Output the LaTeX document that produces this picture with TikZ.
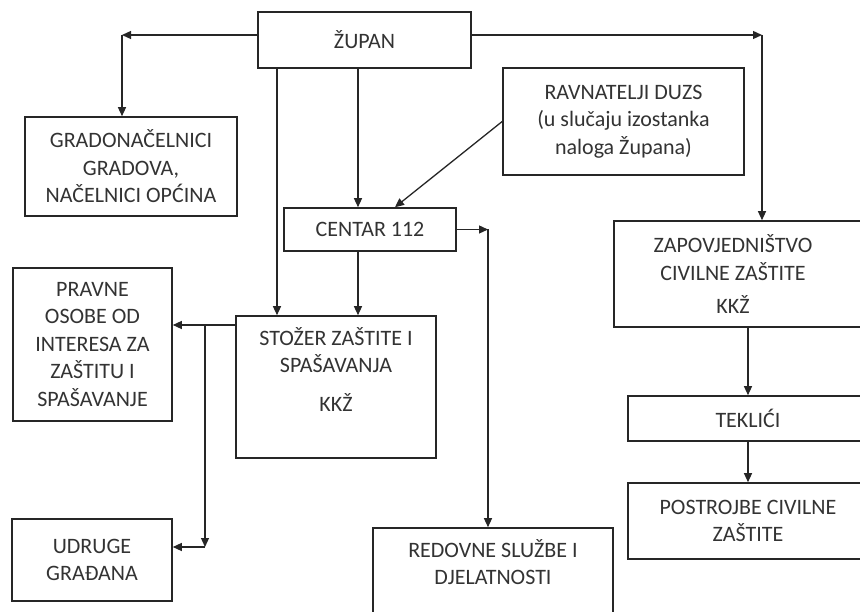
\documentclass[tikz,border=0pt]{standalone}
\usepackage{fontspec}
\setmainfont{Carlito}
\usetikzlibrary{positioning,arrows.meta}
\definecolor{ink}{HTML}{333333}
\definecolor{edge}{HTML}{262626}
\tikzset{%
  box/.style={draw=edge,line width=1.6pt,rectangle,align=center,inner sep=0pt,text=ink},
  txt/.style={align=center,inner sep=0pt,text=ink},
  arr/.style={draw=edge,line width=1.3pt,-{Triangle[length=9pt,width=8pt]}}
}

\begin{document}
\begin{tikzpicture}[x=1pt,y=-1pt,font=\fontsize{22}{27.5}\selectfont]
  \useasboundingbox[fill=white] (0,0) rectangle (860,612);

  \node[box,minimum width=213pt,minimum height=56pt] (zupan) at (364.5,40) {ŽUPAN};
  \node[box,minimum width=212pt,minimum height=99pt] (gradonacelnici) at (131,166.5)
    {GRADONAČELNICI\\GRADOVA,\\NAČELNICI OPĆINA};
  \node[box,minimum width=241pt,minimum height=107pt] (ravnatelji) at (623.5,121.5)
    {RAVNATELJI DUZS\\(u slučaju izostanka\\naloga Župana)};
  \node[box,minimum width=172pt,minimum height=43pt] (centar) at (370,229.5) {CENTAR 112};
  \node[box,minimum width=286pt,minimum height=106pt] (zapovjednistvo) at (757,274) {};
  \node[txt] (zapovjednistvo-t) at ([xshift=-24pt]zapovjednistvo.center)
    {ZAPOVJEDNIŠTVO\\CIVILNE ZAŠTITE\\[6pt]KKŽ};
  \node[box,minimum width=159pt,minimum height=153pt] (pravne) at (92.5,344.5)
    {PRAVNE\\OSOBE OD\\INTERESA ZA\\ZAŠTITU I\\SPAŠAVANJE};
  \node[box,minimum width=200pt,minimum height=142pt] (stozer) at (336,387) {};
  \node[txt,below=12pt of stozer.north] (stozer-t) {STOŽER ZAŠTITE I\\SPAŠAVANJA\\[11pt]KKŽ};
  \node[box,minimum width=240pt,minimum height=45pt] (teklici) at (748,418.5) {TEKLIĆI};
  \node[box,minimum width=240pt,minimum height=76pt] (postrojbe) at (748,521)
    {POSTROJBE CIVILNE\\ZAŠTITE};
  \node[box,minimum width=160pt,minimum height=82pt] (udruge) at (92,560) {UDRUGE\\GRAĐANA};
  \node[box,minimum width=240pt,minimum height=112pt] (redovne) at (493,584) {};
  \node[txt,below=12pt of redovne.north] (redovne-t) {REDOVNE SLUŽBE I\\DJELATNOSTI};

  % corners of the bent connectors
  \coordinate (cL) at (122,35);
  \coordinate (cR) at (762,35);
  \coordinate (cD) at (488,229.5);
  \coordinate (cB) at (205,325);
  \coordinate (cU) at (205,547);

  \draw[arr] (zupan.west |- cL) -- (cL);
  \draw[arr] (cL) -- (cL |- gradonacelnici.north);
  \draw[arr] (zupan.east |- cR) -- (cR);
  \draw[arr] (cR) -- (cR |- zapovjednistvo.north);
  \draw[arr] ([xshift=-87.5pt]zupan.south) -- ([xshift=-87.5pt]zupan.south |- stozer.north);
  \draw[arr] ([xshift=-6.5pt]zupan.south) -- ([xshift=-6.5pt]zupan.south |- centar.north);
  \draw[arr] (ravnatelji.west) -- ([xshift=25pt]centar.north);
  \draw[arr] ([xshift=-12pt]centar.south) -- ([xshift=-12pt]centar.south |- stozer.north);
  \draw[arr] (centar.east) -- (cD);
  \draw[arr] (cD) -- (cD |- redovne.north);
  \draw[arr] (stozer.west |- cB) -- (pravne.east |- cB);
  \draw[arr] (cB) -- (cU);
  \draw[arr] (cU) -- (udruge.east |- cU);
  \draw[arr] (teklici.north |- zapovjednistvo.south) -- (teklici.north);
  \draw[arr] (teklici.south) -- (postrojbe.north);
\end{tikzpicture}
\end{document}
